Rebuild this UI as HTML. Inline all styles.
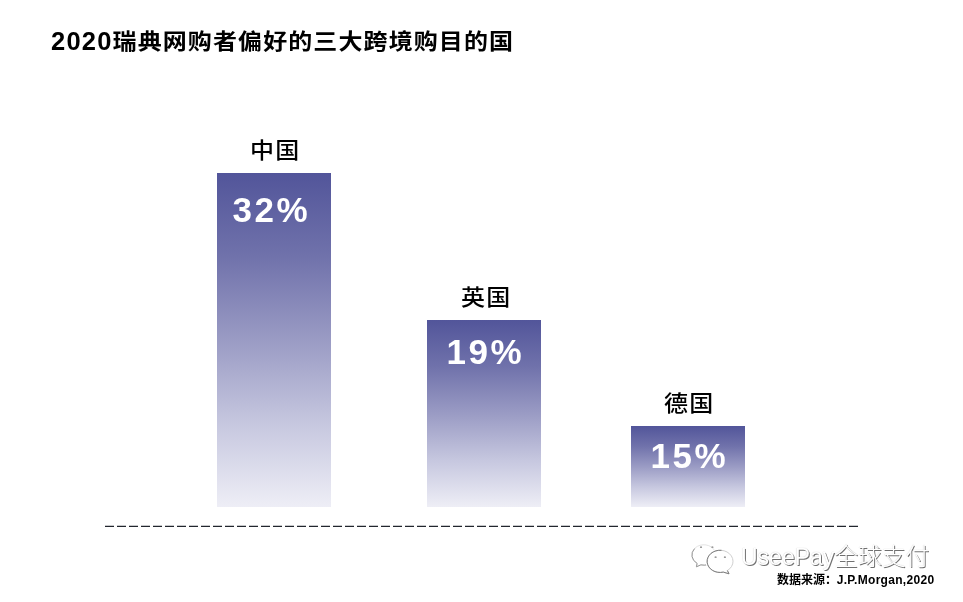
<!DOCTYPE html>
<html lang="zh-CN">
<head>
<meta charset="utf-8">
<title>2020瑞典网购者偏好的三大跨境购目的国</title>
<style>
html,body{margin:0;padding:0;background:#fff;}
body{width:963px;height:602px;position:relative;overflow:hidden;font-family:"Liberation Sans","Noto Sans CJK SC",sans-serif;color:#000;}
.abs{position:absolute;white-space:nowrap;line-height:1;}
#title{left:51px;top:29px;font-size:24px;font-weight:700;letter-spacing:1.1px;}
#title .cjk{display:inline-block;transform:scaleY(.92);transform-origin:50% 50%;}
#title .num{font-size:25.5px;letter-spacing:1.2px;}
.bar{position:absolute;width:114px;background:linear-gradient(to bottom,#52559a 0%,#7072ab 25%,#9a9bc4 50%,#c6c7df 75%,#eeeef6 100%);}
#b1{left:217px;top:173px;height:334px;}
#b2{left:427px;top:320px;height:187px;}
#b3{left:631px;top:426px;height:81px;}
.lab{font-size:24px;font-weight:500;letter-spacing:1.2px;transform:scaleY(.92);transform-origin:50% 50%;}
.val{font-size:35px;font-weight:700;color:#fff;letter-spacing:2.5px;}
#wm{left:741px;top:546px;font-size:23px;color:#fff;text-shadow:1px 1px .6px rgba(0,0,0,.55),0 0 1px rgba(0,0,0,.25);}
#wm .cjk{font-size:23.7px;font-weight:300;}
#src{left:777px;top:573.8px;font-size:12px;font-weight:700;}
#src .lat{letter-spacing:.3px;margin-left:-.3px;}
</style>
</head>
<body>
<div id="title" class="abs"><span class="num">2020</span><span class="cjk">瑞典网购者偏好的三大跨境购目的国</span></div>

<div id="b1" class="bar"></div>
<div id="b2" class="bar"></div>
<div id="b3" class="bar"></div>

<div class="abs lab" style="left:250px;top:138.5px;">中国</div>
<div class="abs lab" style="left:461px;top:285.5px;">英国</div>
<div class="abs lab" style="left:664px;top:391.5px;">德国</div>

<div class="abs val" style="left:232.5px;top:192px;">32%</div>
<div class="abs val" style="left:446.5px;top:334px;">19%</div>
<div class="abs val" style="left:650.5px;top:438px;">15%</div>

<svg id="dash" width="963" height="10" viewBox="0 0 963 10" style="position:absolute;left:0;top:521px;">
<line x1="105" y1="5.4" x2="858" y2="5.4" stroke="#22262e" stroke-width="1.2" stroke-dasharray="9 3"/>
</svg>

<svg id="wxicon" width="60" height="40" viewBox="686 538 60 40" style="position:absolute;left:686px;top:538px;">
<g fill="#fff" stroke-linejoin="round">
<path d="M697.1 563.4 A12 10.2 0 1 1 700.9 564.85 L696.4 566.8 Z" stroke="#e4e4e4" stroke-width="1"/>
<path d="M694.6 548.6 A12 10.2 0 0 0 697.1 563.4 L696.4 566.8 L700.9 564.85 A12 10.2 0 0 0 708 564.6" fill="none" stroke="#989898" stroke-width="1"/>
<path d="M723.3 572.1 A12.9 11.1 0 1 1 727.4 570.5 L729 573.8 Z" stroke="#fff" stroke-width="3.2"/>
<path d="M723.3 572.1 A12.9 11.1 0 1 1 727.4 570.5 L729 573.8 Z" stroke="#d0d0d0" stroke-width="1"/>
<path d="M721.5 550.35 A12.9 11.1 0 1 0 723.3 572.1 L729 573.8 L727.4 570.5" fill="none" stroke="#7d7d7d" stroke-width="1"/>
</g>
<g fill="#9a9a9a">
<ellipse cx="701" cy="547.2" rx="1.1" ry=".9"/><ellipse cx="712.4" cy="547.2" rx="1.1" ry=".9"/>
<ellipse cx="715.6" cy="557.2" rx="1.1" ry=".9"/><ellipse cx="724.9" cy="557.2" rx="1.1" ry=".9"/>
</g>
</svg>

<div id="wm" class="abs">UseePay<span class="cjk">全球支付</span></div>
<div id="src" class="abs">数据来源：<span class="lat">J.P.Morgan,2020</span></div>
</body>
</html>
